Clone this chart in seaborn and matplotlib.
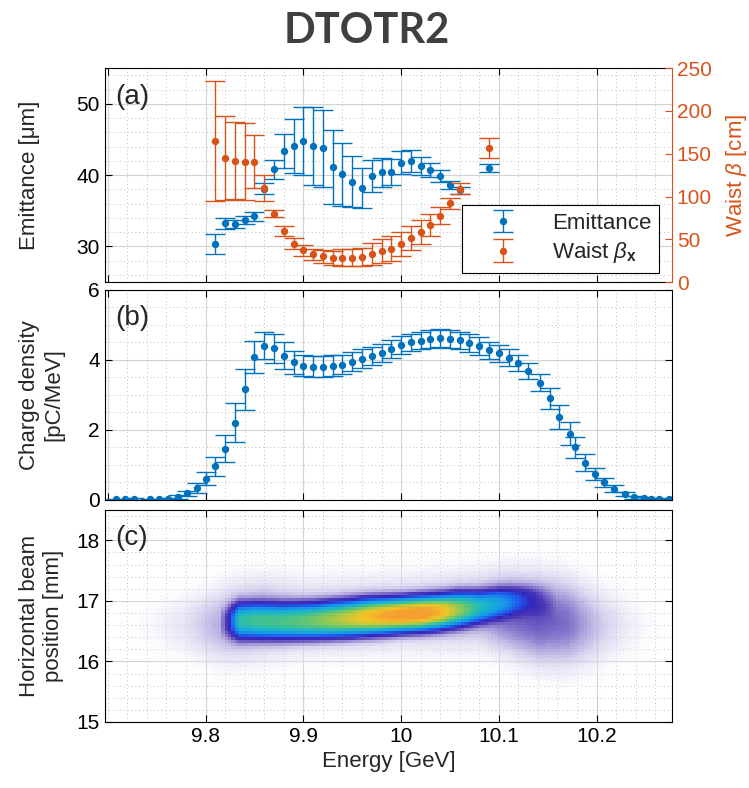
import numpy as np
import pandas as pd
import matplotlib
matplotlib.use("Agg")
import matplotlib.pyplot as plt
import seaborn as sns
from matplotlib.colors import LinearSegmentedColormap, to_rgb
from matplotlib.ticker import MultipleLocator

# ---------------- panel (a) data ----------------
energy_a = [9.81, 9.82, 9.83, 9.84, 9.85, 9.86, 9.87, 9.88, 9.89, 9.90,
            9.91, 9.92, 9.93, 9.94, 9.95, 9.96, 9.97, 9.98, 9.99, 10.00,
            10.01, 10.02, 10.03, 10.04, 10.05, 10.06, 10.09]
emittance = [30.35, 33.24, 33.2, 33.7, 34.2, 38.1, 40.8, 43.4, 44.1, 44.8,
             44.1, 43.8, 41.1, 40.1, 39.1, 38.2, 39.9, 40.4, 40.4, 41.75,
             42.0, 41.3, 40.7, 39.9, 38.6, 37.9, 41.0]
emittance_err = [1.37, 0.8, 0.55, 0.5, 0.6, 0.8, 1.3, 2.4, 3.8, 4.8,
                 5.5, 5.4, 5.2, 4.4, 3.6, 2.8, 2.2, 2.0, 1.8, 1.6,
                 1.5, 1.3, 1.0, 0.8, 0.6, 0.5, 0.5]
waist = [165.0, 145.5, 141.6, 140.7, 140.7, 110.0, 79.7, 60.0, 45.0, 37.2,
         32.4, 30.4, 28.5, 28.5, 28.5, 29.3, 33.2, 36.3, 39.1, 45.0,
         51.3, 58.0, 67.0, 77.7, 92.3, 109.2, 156.5]
waist_err = [70.0, 49.0, 45.0, 45.0, 31.0, 15.0, 4.0, 6.0, 6.5, 6.3,
             6.3, 7.5, 8.3, 10.0, 10.0, 10.0, 12.8, 13.8, 15.0, 14.0,
             14.0, 14.0, 12.6, 10.0, 6.5, 6.7, 12.0]

# ---------------- panel (b) data ----------------
energy_b = [9.708, 9.718, 9.727, 9.743, 9.752, 9.762, 9.772, 9.781, 9.791, 9.80,
            9.81, 9.82, 9.83, 9.84, 9.85, 9.86, 9.87, 9.88, 9.89, 9.90,
            9.91, 9.92, 9.93, 9.94, 9.95, 9.96, 9.97, 9.98, 9.99, 10.00,
            10.01, 10.02, 10.03, 10.04, 10.05, 10.06, 10.07, 10.08, 10.09, 10.10,
            10.11, 10.12, 10.13, 10.142, 10.152, 10.162, 10.173, 10.178, 10.188, 10.198,
            10.208, 10.218, 10.229, 10.238, 10.248, 10.256, 10.264, 10.274]
charge = [0.02, 0.02, 0.03, 0.02, 0.02, 0.04, 0.09, 0.19, 0.34, 0.61,
          0.96, 1.47, 2.21, 3.16, 4.08, 4.41, 4.33, 4.12, 3.94, 3.84,
          3.81, 3.81, 3.84, 3.87, 3.95, 4.04, 4.12, 4.2, 4.31, 4.42,
          4.5, 4.55, 4.6, 4.63, 4.6, 4.56, 4.48, 4.4, 4.28, 4.19,
          4.07, 3.92, 3.68, 3.35, 2.9, 2.37, 1.89, 1.5, 1.06, 0.73,
          0.5, 0.32, 0.17, 0.08, 0.05, 0.03, 0.02, 0.03]
charge_err = [0.02, 0.02, 0.02, 0.02, 0.02, 0.03, 0.05, 0.08, 0.14, 0.19,
              0.27, 0.39, 0.55, 0.58, 0.45, 0.38, 0.42, 0.38, 0.33, 0.3,
              0.3, 0.3, 0.3, 0.28, 0.27, 0.26, 0.26, 0.26, 0.26, 0.26,
              0.25, 0.25, 0.25, 0.25, 0.25, 0.25, 0.25, 0.25, 0.24, 0.24,
              0.24, 0.23, 0.23, 0.25, 0.3, 0.35, 0.33, 0.3, 0.24, 0.17,
              0.13, 0.1, 0.07, 0.04, 0.03, 0.02, 0.02, 0.02]

# ---------------- panel (c): beam profile ----------------
ridge_energy = [9.815, 9.825, 9.835, 9.85, 9.88, 9.91, 9.94, 9.97, 10.00, 10.02,
                10.04, 10.06, 10.08, 10.10, 10.115, 10.13, 10.145, 10.16]
ridge_amp = [0.0, 0.15, 0.48, 0.52, 0.55, 0.62, 0.72, 0.85, 0.95, 0.97,
             0.85, 0.65, 0.46, 0.33, 0.22, 0.12, 0.05, 0.0]
ridge_center = [16.64, 16.66, 16.67, 16.67, 16.66, 16.67, 16.7, 16.74, 16.77, 16.79,
                16.82, 16.86, 16.9, 16.96, 17.0, 17.02, 17.0, 16.95]
ridge_width = [0.18, 0.19, 0.2, 0.2, 0.2, 0.2, 0.2, 0.2, 0.19, 0.19,
               0.19, 0.19, 0.18, 0.17, 0.16, 0.16, 0.17, 0.18]
halo_energy = [9.70, 9.74, 9.78, 9.81, 9.83, 9.86, 9.90, 10.00, 10.08, 10.11,
               10.14, 10.17, 10.20, 10.23, 10.26, 10.28]
halo_amp = [0.0, 0.02, 0.05, 0.09, 0.11, 0.11, 0.09, 0.09, 0.11, 0.15,
            0.16, 0.14, 0.08, 0.04, 0.015, 0.0]
halo_center = [16.6, 16.6, 16.6, 16.6, 16.65, 16.72, 16.72, 16.8, 16.85, 16.8,
               16.7, 16.65, 16.6, 16.6, 16.6, 16.6]
halo_width = [0.38, 0.4, 0.42, 0.45, 0.48, 0.48, 0.45, 0.45, 0.45, 0.48,
              0.52, 0.52, 0.5, 0.45, 0.4, 0.4]

BLUE = "#0072BD"
ORANGE = "#D95319"

sns.set_style("ticks")
plt.rcParams["font.family"] = ["Liberation Sans", "DejaVu Sans"]
plt.rcParams["mathtext.fontset"] = "custom"
plt.rcParams["mathtext.rm"] = "Liberation Sans"
plt.rcParams["mathtext.it"] = "Liberation Sans:italic"
plt.rcParams["mathtext.bf"] = "Liberation Sans:bold"

TFS = 15      # tick labels
LFS = 16      # axis labels
fig = plt.figure(figsize=(7.49, 7.88), dpi=100)
ax_a = fig.add_axes([0.140, 0.642, 0.757, 0.2715])
ax_b = fig.add_axes([0.140, 0.3655, 0.757, 0.2665])
ax_c = fig.add_axes([0.140, 0.0838, 0.757, 0.269])

XLIM = (9.697, 10.277)


def style_axis(ax, ymaj, ymin, below=True):
    ax.set_xlim(*XLIM)
    ax.xaxis.set_major_locator(MultipleLocator(0.1))
    ax.xaxis.set_minor_locator(MultipleLocator(0.02))
    ax.yaxis.set_major_locator(MultipleLocator(ymaj))
    ax.yaxis.set_minor_locator(MultipleLocator(ymin))
    ax.grid(True, which="major", color="#d3d3d3", lw=0.8)
    ax.grid(True, which="minor", color="#a8a8a8", lw=0.6, linestyle=(0, (1, 3.5)))
    ax.set_axisbelow(below)
    ax.tick_params(which="major", direction="in", length=5, width=0.8,
                   top=True, right=True, labelsize=TFS, colors="black")
    ax.tick_params(which="minor", length=0)
    for s in ax.spines.values():
        s.set_color("black")
        s.set_linewidth(0.8)


# ---------------- panel (a) ----------------
style_axis(ax_a, 10, 2)
ax_a.set_ylim(25, 55)
ax_a.tick_params(right=False, labelbottom=False)
ax_a.spines["right"].set_visible(False)
eb1 = ax_a.errorbar(energy_a, emittance, yerr=emittance_err, fmt="o", ms=4.3,
                    color=BLUE, ecolor=BLUE, elinewidth=1.0, capsize=7,
                    capthick=1.0, label="Emittance")
ax_a.set_ylabel("Emittance [μm]", fontsize=LFS)
ax_a.yaxis.set_label_coords(-0.115, 0.5)

ax_a2 = ax_a.twinx()
ax_a2.set_xlim(*XLIM)
ax_a2.set_ylim(0, 250)
ax_a2.yaxis.set_major_locator(MultipleLocator(50))
eb2 = ax_a2.errorbar(energy_a, waist, yerr=waist_err, fmt="o", ms=4.3,
                     color=ORANGE, ecolor=ORANGE, elinewidth=1.0, capsize=7,
                     capthick=1.0, label=r"Waist $\beta_{\mathbf{x}}$")
for k in ["left", "top", "bottom"]:
    ax_a2.spines[k].set_visible(False)
ax_a2.spines["right"].set_color(ORANGE)
ax_a2.spines["right"].set_linewidth(0.8)
ax_a2.tick_params(axis="y", direction="in", length=5, width=0.8, colors=ORANGE,
                  labelsize=TFS, labelcolor=ORANGE)
ax_a2.tick_params(axis="x", bottom=False, top=False, labelbottom=False)
ax_a2.set_ylabel(r"Waist $\beta$ [cm]", fontsize=LFS, color=ORANGE, labelpad=9)
leg = ax_a2.legend(handles=[eb1, eb2], loc="lower right",
                   bbox_to_anchor=(0.977, 0.042), fontsize=LFS, frameon=True,
                   fancybox=False, edgecolor="black", framealpha=1,
                   handlelength=3.0, handletextpad=0.7, borderpad=0.35,
                   labelspacing=0.3, borderaxespad=0)
leg.get_frame().set_linewidth(0.8)
ax_a.text(0.018, 0.865, "(a)", transform=ax_a.transAxes, fontsize=20,
          va="center", ha="left")

# ---------------- panel (b) ----------------
style_axis(ax_b, 2, 0.5)
ax_b.set_ylim(0, 6)
ax_b.tick_params(labelbottom=False)
ax_b.errorbar(energy_b, charge, yerr=charge_err, fmt="o", ms=4.3,
              color=BLUE, ecolor=BLUE, elinewidth=1.0, capsize=7, capthick=1.0)
ax_b.set_ylabel("Charge density\n[pC/MeV]", fontsize=LFS)
ax_b.yaxis.set_label_coords(-0.072, 0.5)
ax_b.text(0.018, 0.867, "(b)", transform=ax_b.transAxes, fontsize=20,
          va="center", ha="left")

# ---------------- panel (c) ----------------
e_edges = np.arange(9.697, 10.2801, 0.0035)
y_edges = np.arange(15.0, 18.5001, 0.05)
ec = 0.5 * (e_edges[:-1] + e_edges[1:])
yc = 0.5 * (y_edges[:-1] + y_edges[1:])
EE, YY = np.meshgrid(ec, yc, indexing="ij")
A = np.interp(ec, ridge_energy, ridge_amp, left=0, right=0)[:, None]
C = np.interp(ec, ridge_energy, ridge_center)[:, None]
S = np.interp(ec, ridge_energy, ridge_width)[:, None]
H = np.interp(ec, halo_energy, halo_amp, left=0, right=0)[:, None]
HC = np.interp(ec, halo_energy, halo_center)[:, None]
HS = np.interp(ec, halo_energy, halo_width)[:, None]
dens = A * np.exp(-0.5 * np.abs((YY - C) / S) ** 2.5) + H * np.exp(-0.5 * ((YY - HC) / HS) ** 2)
dens[dens < 0.006] = 0
df = pd.DataFrame({"energy": EE.ravel(), "position": YY.ravel(), "density": dens.ravel()})

stops = [(0.0, "#ffffff", 0.0), (0.03, "#e6e1f4", 0.45), (0.07, "#c4bbe6", 0.75),
         (0.12, "#8a7ace", 0.92), (0.18, "#4c38b4", 1.0), (0.24, "#3326bc", 1.0),
         (0.32, "#1f5cf0", 1.0), (0.42, "#1696ea", 1.0), (0.52, "#18b2d2", 1.0),
         (0.62, "#38c098", 1.0), (0.72, "#7ac862", 1.0), (0.82, "#c4c83a", 1.0),
         (0.9, "#f4c424", 1.0), (1.0, "#f4a030", 1.0)]
cmap = LinearSegmentedColormap.from_list(
    "beam", [(p, (*to_rgb(c), a)) for p, c, a in stops])

style_axis(ax_c, 1, 0.2, below=True)
sns.histplot(data=df, x="energy", y="position", weights="density",
             bins=(e_edges, y_edges), cmap=cmap, vmin=0, vmax=1, ax=ax_c)
ax_c.set_xlim(*XLIM)
ax_c.set_ylim(15, 18.5)
ax_c.set_xticks([9.8, 9.9, 10.0, 10.1, 10.2])
ax_c.set_xticklabels(["9.8", "9.9", "10", "10.1", "10.2"])
ax_c.set_xlabel("Energy [GeV]", fontsize=LFS)
ax_c.set_ylabel("Horizontal beam\nposition [mm]", fontsize=LFS)
ax_c.yaxis.set_label_coords(-0.072, 0.5)
ax_c.text(0.018, 0.868, "(c)", transform=ax_c.transAxes, fontsize=20,
          va="center", ha="left")

fig.text(0.49, 1 - 31 / 788, "DTOTR2", ha="center", va="center", fontsize=30,
         fontweight="bold", family=["Lato", "DejaVu Sans"], color="#404040")

fig.savefig("out.png", dpi=100)
